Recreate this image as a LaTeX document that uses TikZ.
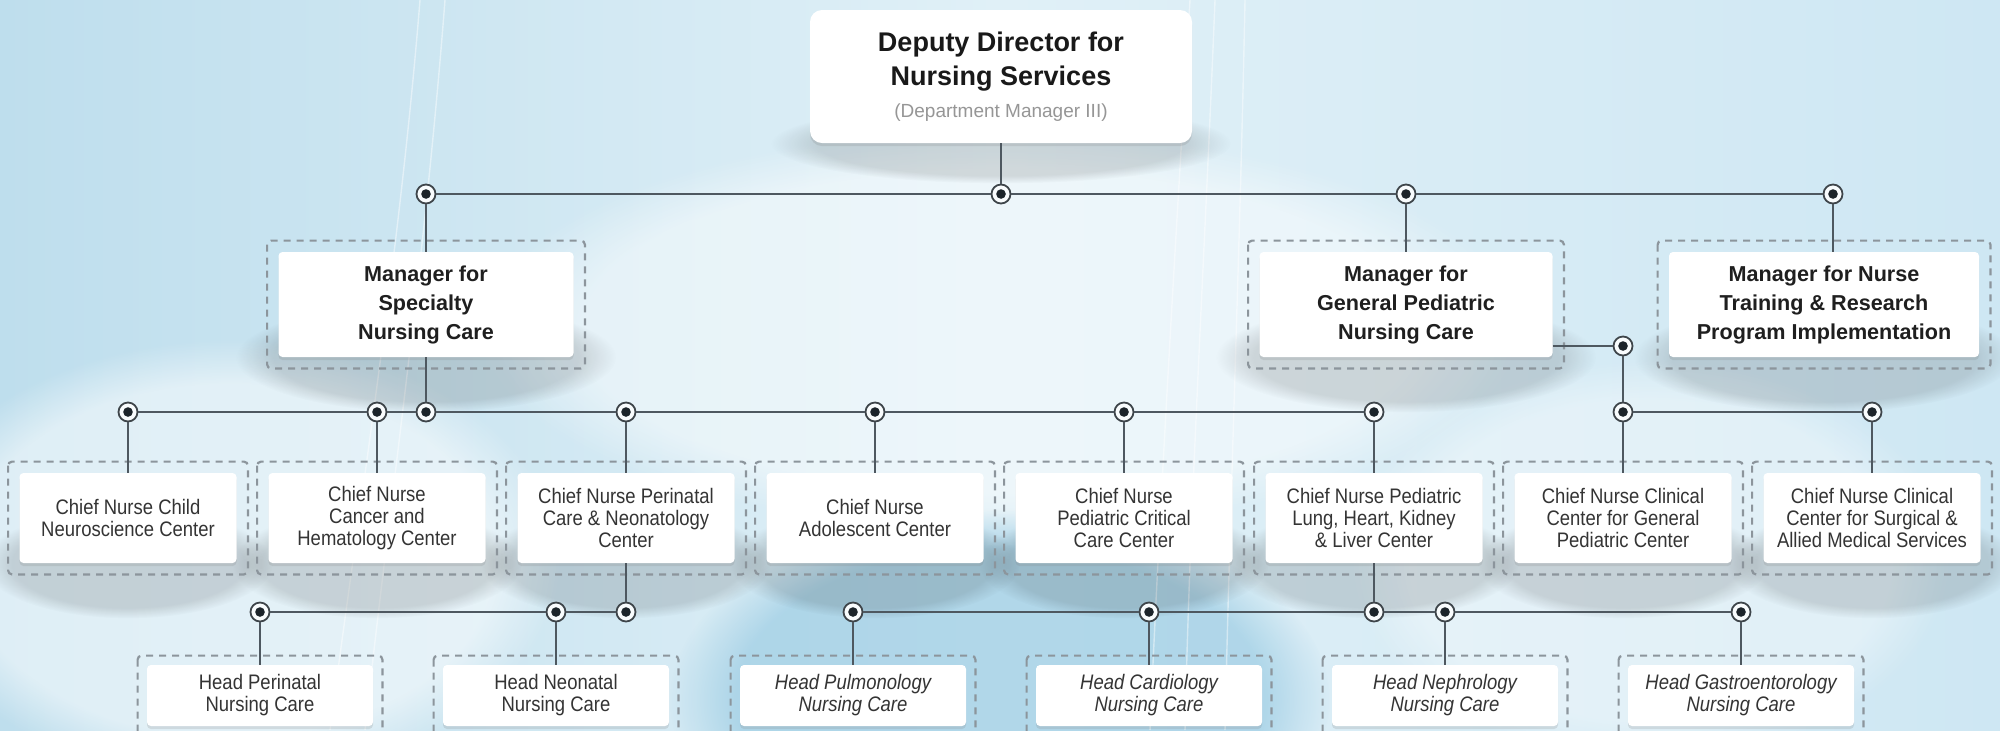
\documentclass[tikz,border=0pt]{standalone}
\usepackage{fontspec}
\setmainfont{Liberation Sans}
\newfontfamily\cnfont{Liberation Sans}[FakeStretch=0.88]
\usetikzlibrary{shadows,fadings,calc}
\definecolor{bgA}{RGB}{190,222,237}
\definecolor{bgB}{RGB}{224,240,247}
\definecolor{bgC}{RGB}{206,231,243}
\definecolor{bgD}{RGB}{140,196,223}
\definecolor{linec}{RGB}{78,88,96}
\definecolor{framec}{RGB}{140,149,156}
\definecolor{dotc}{RGB}{28,36,42}
\definecolor{txtc}{RGB}{52,52,52}
\definecolor{subc}{RGB}{150,150,150}
\pgfdeclarelayer{back}
\pgfdeclarelayer{shade}
\pgfsetlayers{back,shade,main}
\tikzset{
 box/.style={fill=white, rounded corners=2pt, inner sep=0pt, align=center, text=txtc,
   drop shadow={shadow xshift=0pt, shadow yshift=-1.5pt, opacity=0.2}},
 topbox/.style={box, minimum width=191pt, minimum height=66.5pt, rounded corners=6pt,
   font=\fontsize{13.5}{17}\selectfont\bfseries, text=black!90},
 mgrbox/.style={box, minimum height=52.5pt, font=\fontsize{10.8}{14.5}\selectfont\bfseries, text=black!88},
 chiefbox/.style={box, minimum width=108.5pt, minimum height=45pt, font=\cnfont\fontsize{10.5}{11}\selectfont},
 headbox/.style={box, minimum width=113pt, minimum height=30.5pt, font=\cnfont\fontsize{10.5}{11}\selectfont},
 headit/.style={headbox, font=\cnfont\itshape\fontsize{10.5}{11}\selectfont},
 dframe/.style={draw=framec, line width=1.1pt, dash pattern=on 3.5pt off 3pt, rounded corners=2pt},
 conn/.style={draw=linec, line width=0.7pt},
 jdot/.style={circle, draw=dotc!85, line width=0.9pt, fill=white!80!bgB, minimum size=9.5pt, inner sep=0pt,
   path picture={\fill[dotc] (path picture bounding box.center) circle (2.4pt);}},
 streak/.style={draw=white, line width=0.7pt, opacity=0.45},
 softsh/.style={fill=black, opacity=0.13, path fading=circle with fuzzy edge 20 percent},
}
\newcommand\myframebox[2]{\draw[dframe] ([shift={(-#2,-#2)}]#1.north west) rectangle ([shift={(#2,#2)}]#1.south east);}
\begin{document}
\begin{tikzpicture}[x=0.5pt,y=-0.5pt]
\useasboundingbox (0,0) rectangle (2000,730);
\clip (0,0) rectangle (2000,730);
\begin{pgfonlayer}{back}
\fill[left color=bgA, right color=bgC, middle color=bgB] (0,0) rectangle (2000,730);
\fill[white, opacity=0.45, path fading=circle with fuzzy edge 20 percent] (1000,330) ellipse (520 and 200);
\fill[white, opacity=0.5, path fading=circle with fuzzy edge 20 percent] (230,560) ellipse (330 and 220);
\fill[bgD, opacity=0.55, path fading=circle with fuzzy edge 20 percent] (1000,700) ellipse (330 and 190);
\fill[white, opacity=0.35, path fading=circle with fuzzy edge 20 percent] (1650,560) ellipse (300 and 200);
\draw[streak] (420,0) .. controls (400,250) and (360,500) .. (330,730);
\draw[streak] (445,0) .. controls (425,260) and (390,500) .. (365,730);
\draw[streak] (1190,0) .. controls (1175,250) and (1160,500) .. (1150,730);
\draw[streak] (1215,0) .. controls (1205,250) and (1190,500) .. (1185,730);
\draw[streak] (1245,0) .. controls (1240,250) and (1230,500) .. (1225,730);
\end{pgfonlayer}

% boxes
\node[topbox] (T) at (1001,76.5) {Deputy Director for\\Nursing Services\\[-1pt]{\fontsize{9.5}{11}\selectfont\mdseries\color{subc}(Department Manager III)}};
\node[mgrbox, minimum width=147.5pt] (M1) at (426,304.5) {Manager for\\Specialty\\Nursing Care};
\node[mgrbox, minimum width=146.5pt] (M2) at (1406,304.5) {Manager for\\General Pediatric\\Nursing Care};
\node[mgrbox, minimum width=155pt] (M3) at (1824,304.5) {Manager for Nurse\\Training \& Research\\Program Implementation};

\node[chiefbox] (C1) at (128,518) {Chief Nurse Child\\Neuroscience Center};
\node[chiefbox] (C2) at (377,518) {Chief Nurse\\Cancer and\\Hematology Center};
\node[chiefbox] (C3) at (626,518) {Chief Nurse Perinatal\\Care \& Neonatology\\Center};
\node[chiefbox] (C4) at (875,518) {Chief Nurse\\Adolescent Center};
\node[chiefbox] (C5) at (1124,518) {Chief Nurse\\Pediatric Critical\\Care Center};
\node[chiefbox] (C6) at (1374,518) {Chief Nurse Pediatric\\Lung, Heart, Kidney\\\& Liver Center};
\node[chiefbox] (C7) at (1623,518) {Chief Nurse Clinical\\Center for General\\Pediatric Center};
\node[chiefbox] (C8) at (1872,518) {Chief Nurse Clinical\\Center for Surgical \&\\Allied Medical Services};

\node[headbox] (H1) at (260,695.5) {Head Perinatal\\Nursing Care};
\node[headbox] (H2) at (556,695.5) {Head Neonatal\\Nursing Care};
\node[headit] (H3) at (853,695.5) {Head Pulmonology\\Nursing Care};
\node[headit] (H4) at (1149,695.5) {Head Cardiology\\Nursing Care};
\node[headit] (H5) at (1445,695.5) {Head Nephrology\\Nursing Care};
\node[headit] (H6) at (1741,695.5) {Head Gastroentorology\\Nursing Care};

% dashed frames
\foreach \nn in {M1,M2,M3,C1,C2,C3,C4,C5,C6,C7,C8}{\myframebox{\nn}{11}}
\foreach \nn in {H1,H2,H3,H4,H5,H6}{\myframebox{\nn}{9}}

% soft shadows below boxes
\begin{pgfonlayer}{shade}
\fill[softsh, opacity=0.12] (T.south) ellipse (230 and 40);
\foreach \nn in {M1,M2,M3}{\fill[softsh] (\nn.south) ellipse (190 and 55);}
\foreach \nn in {C1,C2,C3,C4,C5,C6,C7,C8}{\fill[softsh] (\nn.south) ellipse (145 and 55);}
\end{pgfonlayer}

% junction dots
\node[jdot] (a1) at (426,194) {};
\node[jdot] (a2) at (1001,194) {};
\node[jdot] (a3) at (1406,194) {};
\node[jdot] (a4) at (1833,194) {};

\node[jdot] (b1) at (128,412) {};
\node[jdot] (b2) at (377,412) {};
\node[jdot] (bs) at (426,412) {};
\node[jdot] (b3) at (626,412) {};
\node[jdot] (b4) at (875,412) {};
\node[jdot] (b5) at (1124,412) {};
\node[jdot] (b6) at (1374,412) {};
\node[jdot] (g0) at (1623,346) {};
\node[jdot] (g1) at (1623,412) {};
\node[jdot] (g2) at (1872,412) {};

\node[jdot] (p1) at (260,612) {};
\node[jdot] (p2) at (556,612) {};
\node[jdot] (p0) at (626,612) {};
\node[jdot] (q1) at (853,612) {};
\node[jdot] (q2) at (1149,612) {};
\node[jdot] (q0) at (1374,612) {};
\node[jdot] (q3) at (1445,612) {};
\node[jdot] (q4) at (1741,612) {};

% connectors level 0-1
\draw[conn] (T) -- (a2);
\draw[conn] (a1) -- (a2);
\draw[conn] (a2) -- (a3);
\draw[conn] (a3) -- (a4);
\draw[conn] (a1) -- (M1);
\draw[conn] (a3) -- (M2);
\draw[conn] (a4) -- (a4 |- M3.north);

% level 1-2
\draw[conn] (M1) -- (bs);
\draw[conn] (b1) -- (b2);
\draw[conn] (b2) -- (bs);
\draw[conn] (bs) -- (b3);
\draw[conn] (b3) -- (b4);
\draw[conn] (b4) -- (b5);
\draw[conn] (b5) -- (b6);
\draw[conn] (b1) -- (C1);
\draw[conn] (b2) -- (C2);
\draw[conn] (b3) -- (C3);
\draw[conn] (b4) -- (C4);
\draw[conn] (b5) -- (C5);
\draw[conn] (b6) -- (C6);
\draw[conn] (g0 -| M2.east) -- (g0);
\draw[conn] (g0) -- (g1);
\draw[conn] (g1) -- (g2);
\draw[conn] (g1) -- (C7);
\draw[conn] (g2) -- (C8);

% level 2-3
\draw[conn] (C3) -- (p0);
\draw[conn] (p1) -- (p2);
\draw[conn] (p2) -- (p0);
\draw[conn] (p1) -- (H1);
\draw[conn] (p2) -- (H2);
\draw[conn] (C6) -- (q0);
\draw[conn] (q1) -- (q2);
\draw[conn] (q2) -- (q0);
\draw[conn] (q0) -- (q3);
\draw[conn] (q3) -- (q4);
\draw[conn] (q1) -- (H3);
\draw[conn] (q2) -- (H4);
\draw[conn] (q3) -- (H5);
\draw[conn] (q4) -- (H6);
\end{tikzpicture}
\end{document}
